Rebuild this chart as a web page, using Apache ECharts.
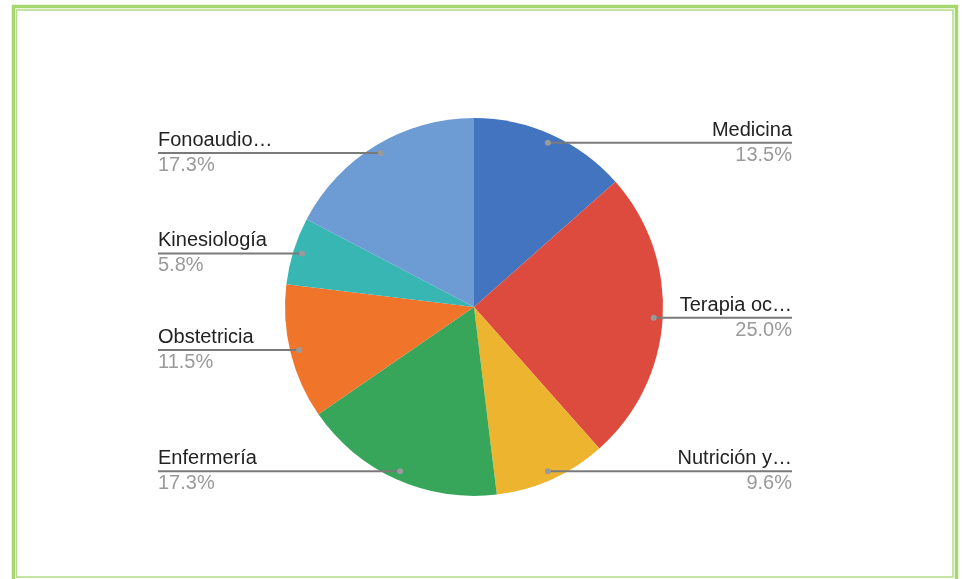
<!DOCTYPE html>
<html>
<head>
<meta charset="utf-8">
<script src="https://cdn.jsdelivr.net/npm/echarts@6/dist/echarts.min.js"></script>
<style>html,body{margin:0;padding:0;background:#fff}#c{width:963px;height:579px}</style>
</head>
<body>
<div id="c"></div>
<script>
const categories = ['Medicina', 'Terapia oc…', 'Nutrición y…', 'Enfermería', 'Obstetricia', 'Kinesiología', 'Fonoaudio…'];
const counts = [7, 13, 5, 9, 6, 3, 9];
const colors = ['#4374c0', '#dc4b3e', '#edb42f', '#37a65b', '#f0742a', '#37b6b3', '#6d9bd3'];

const data = categories.map((n, i) => ({ name: n, value: counts[i], itemStyle: { color: colors[i] } }));
const ghost = categories.map((n, i) => ({ name: n, value: counts[i] }));

const FONT = '"Liberation Sans", Arial, sans-serif';
const layoutBox = { left: 158, right: 171, top: 0, bottom: 0, center: [316, 307] };

const chart = echarts.init(document.getElementById('c'), null, { renderer: 'canvas' });
chart.setOption({
  backgroundColor: '#ffffff',
  animation: false,
  graphic: [
    { type: 'rect', shape: { x: 13.5, y: 6.5, width: 943, height: 580 }, style: { fill: 'none', stroke: '#a6d66f', lineWidth: 3.5 }, silent: true },
    { type: 'rect', shape: { x: 16.5, y: 10, width: 936.5, height: 567 }, style: { fill: 'none', stroke: '#b3dc86', lineWidth: 1.5 }, silent: true }
  ],
  series: [
    Object.assign({
      type: 'pie', radius: 189, startAngle: 90, clockwise: true,
      silent: true, label: { show: false }, labelLine: { show: false },
      itemStyle: { borderWidth: 0 },
      emphasis: { disabled: true },
      data: data
    }, layoutBox),
    Object.assign({
      type: 'pie', radius: 180, startAngle: 90, clockwise: true, z: 5,
      silent: true, avoidLabelOverlap: false,
      itemStyle: { color: 'rgba(0,0,0,0)', borderWidth: 0 },
      emphasis: { disabled: true },
      label: {
        show: true, position: 'outside', alignTo: 'edge', edgeDistance: 0,
        formatter: p => '{n|' + p.name + '}\n{p|' + p.percent.toFixed(1) + '%}',
        rich: {
          n: { fontFamily: FONT, fontSize: 20, color: '#222222', lineHeight: 25 },
          p: { fontFamily: FONT, fontSize: 20, color: '#9a9a9a', lineHeight: 25 }
        }
      },
      percentPrecision: 1,
      labelLine: { show: true, showAbove: true, length: 0, length2: 10, lineStyle: { color: '#7a7a7a', width: 2 } },
      labelLayout: function (params) {
        const pts = params.labelLinePoints;
        if (!pts || !pts.length) return {};
        const r = params.labelRect;
        const first = pts[0];
        const out = pts.map(p => [p[0], p[1]]);
        const last = out[out.length - 1];
        if (last[0] >= first[0]) last[0] = r.x + r.width; else last[0] = r.x;
        return { labelLinePoints: out };
      },
      data: ghost
    }, layoutBox),
    Object.assign({
      type: 'pie', radius: [166, 188], startAngle: 90, clockwise: true, z: 6,
      silent: true,
      itemStyle: { color: 'rgba(0,0,0,0)', borderWidth: 0 },
      emphasis: { disabled: true },
      label: {
        show: true, position: 'inside', formatter: '{d| }',
        fontSize: 6, lineHeight: 6, padding: 0, align: 'center', verticalAlign: 'middle',
        rich: { d: { width: 6, height: 6, lineHeight: 6, borderRadius: 3, backgroundColor: '#9a9a9a', fontSize: 6, padding: 0 } }
      },
      labelLine: { show: false },
      data: ghost
    }, layoutBox)
  ]
});
</script>
</body>
</html>
